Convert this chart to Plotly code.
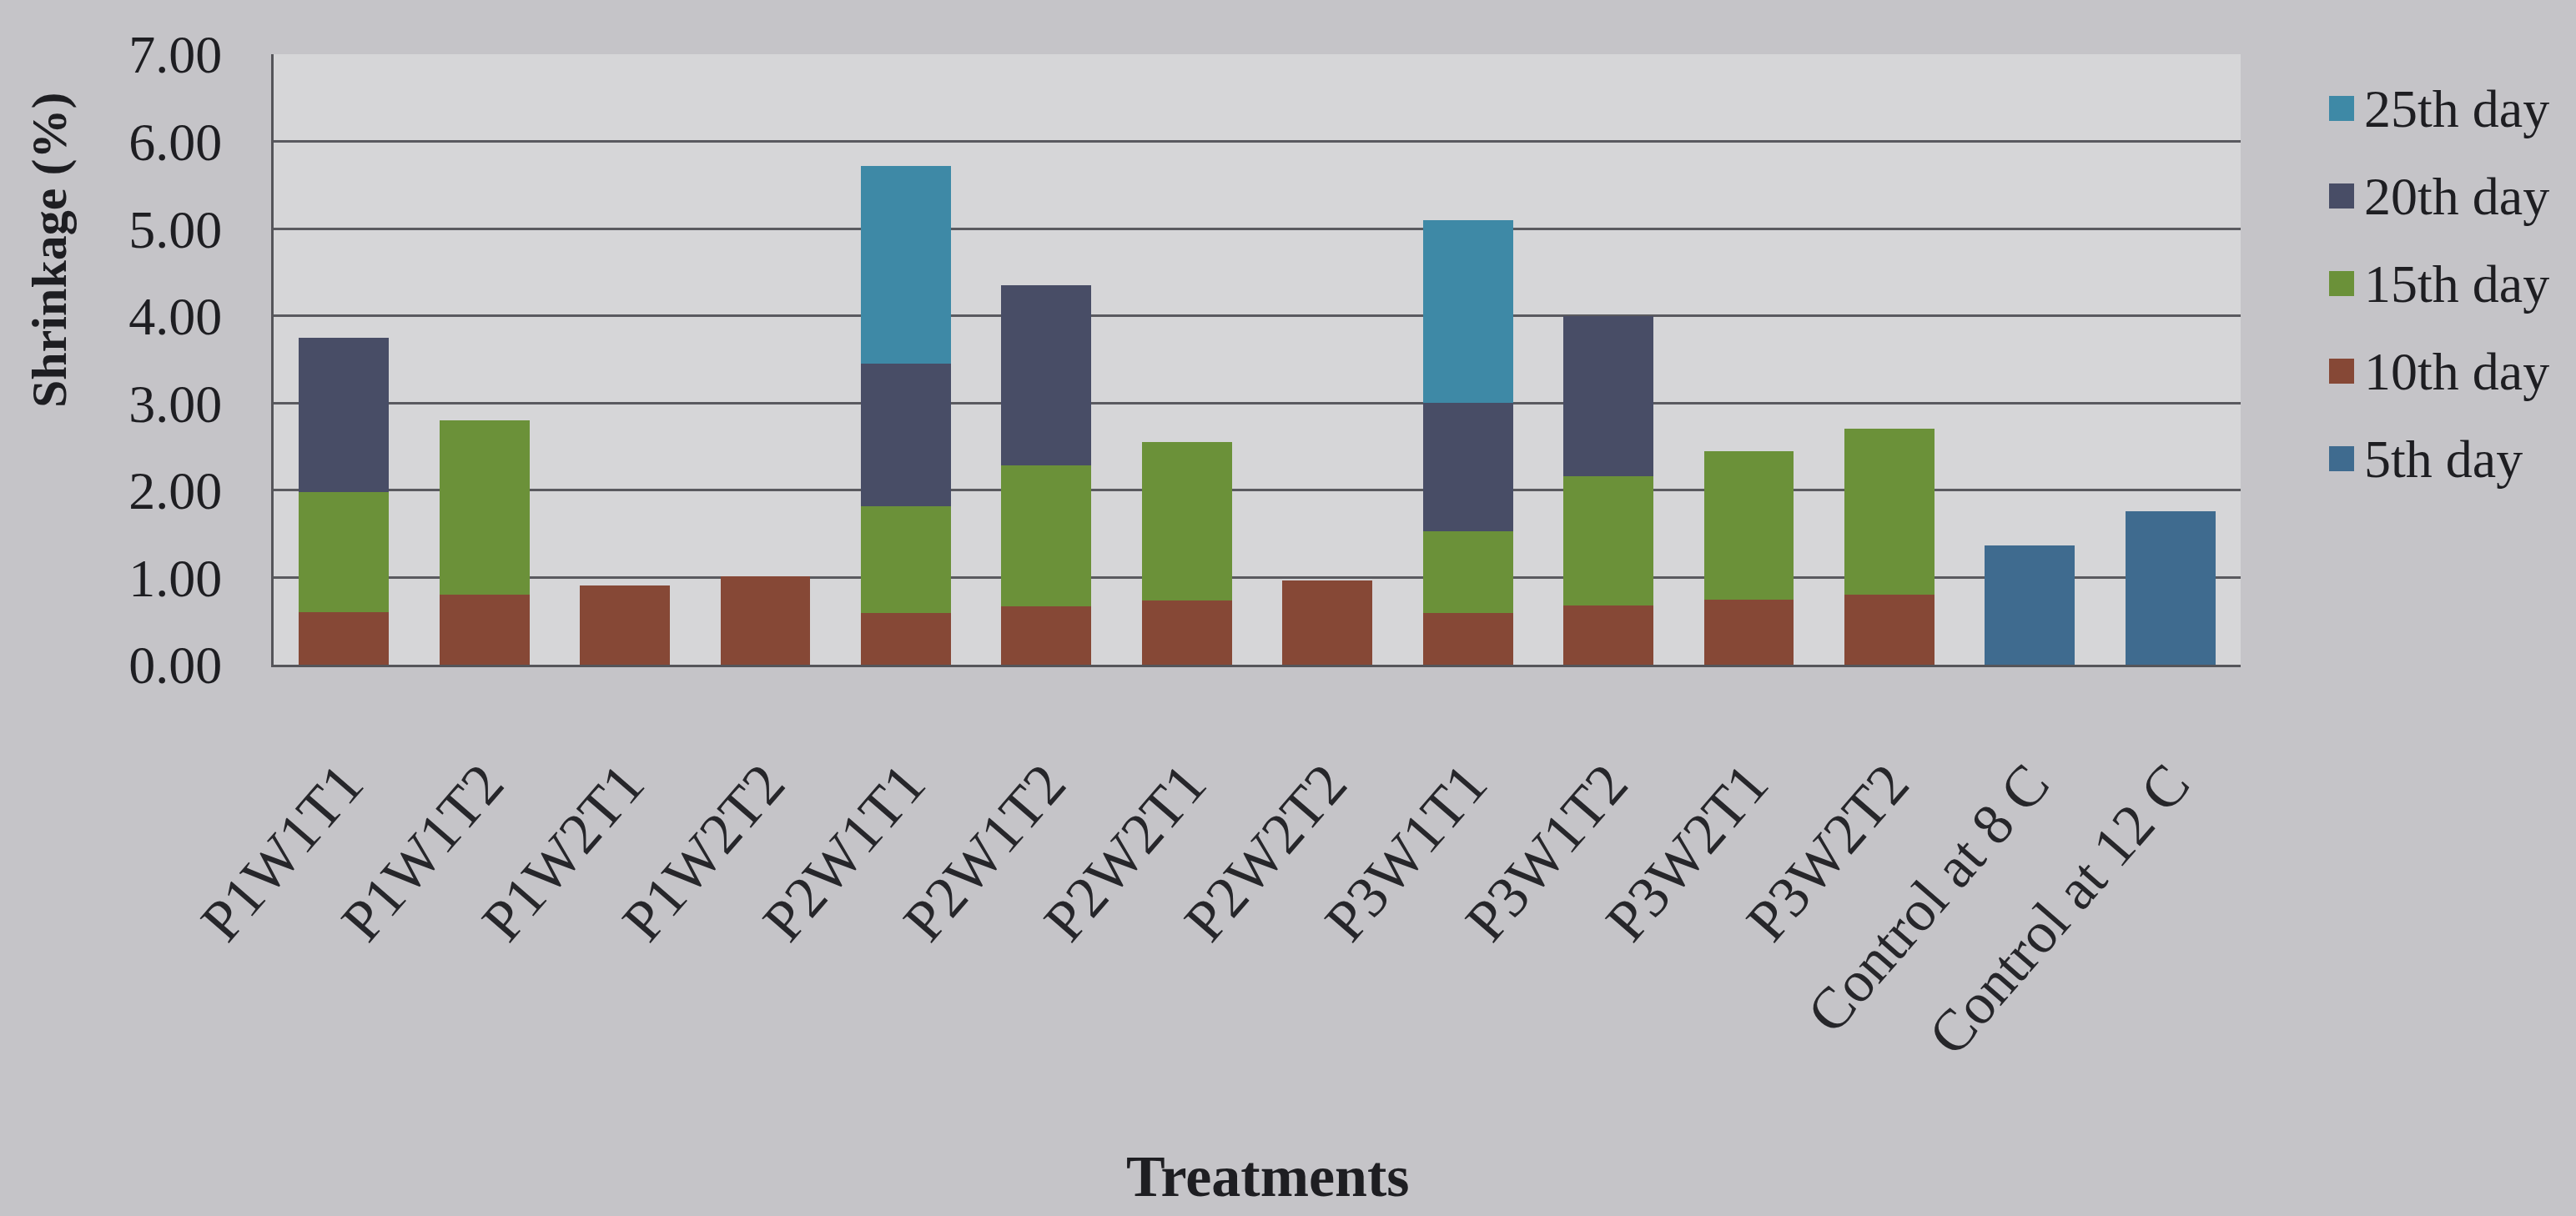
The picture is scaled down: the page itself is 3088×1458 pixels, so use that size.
import plotly.graph_objects as go

# Treatments on the x axis
treatments = ["P1W1T1", "P1W1T2", "P1W2T1", "P1W2T2", "P2W1T1", "P2W1T2",
              "P2W2T1", "P2W2T2", "P3W1T1", "P3W1T2", "P3W2T1", "P3W2T2",
              "Control at 8 C", "Control at 12 C"]

# Shrinkage (%) added in each period (stacked segments)
day5 = [None] * 12 + [1.37, 1.76]
day10 = [0.60, 0.80, 0.91, 1.01, 0.59, 0.67, 0.74, 0.97, 0.59, 0.68, 0.75, 0.80, None, None]
day15 = [1.38, 2.00, None, None, 1.23, 1.62, 1.81, None, 0.94, 1.48, 1.70, 1.91, None, None]
day20 = [1.77, None, None, None, 1.63, 2.06, None, None, 1.47, 1.84, None, None, None, None]
day25 = [None, None, None, None, 2.27, None, None, None, 2.10, None, None, None, None, None]

series_names = ["5th day", "10th day", "15th day", "20th day", "25th day"]
series_values = [day5, day10, day15, day20, day25]
series_colors = ["#3f6b8f", "#864836", "#6b9139", "#484d66", "#3e89a6"]

y_ticks = [0, 1, 2, 3, 4, 5, 6, 7]
y_tick_text = ["%.2f" % v for v in y_ticks]

SERIF = "Liberation Serif"
INK = "#1e1e22"

W, H = 3088, 1458
L, R, T, B = 328, 402, 65, 661
PW, PH = W - L - R, H - T - B


def xp(px):
    return (px - L) / PW


def yp(py):
    return (H - B - py) / PH


fig = go.Figure()
for name, vals, col in zip(series_names, series_values, series_colors):
    fig.add_trace(go.Bar(x=treatments, y=vals, name=name,
                         marker=dict(color=col, line=dict(width=0)),
                         showlegend=False))

# legend drawn as swatches + labels, top entry = last series
for i, (name, col) in enumerate(zip(reversed(series_names), reversed(series_colors))):
    cy = 130 + i * 105
    fig.add_shape(type="rect", xref="paper", yref="paper",
                  x0=xp(2792), x1=xp(2822), y0=yp(cy + 15), y1=yp(cy - 15),
                  fillcolor=col, line=dict(width=0))
    fig.add_annotation(x=xp(2832), y=yp(cy), xref="paper", yref="paper",
                       text=name, showarrow=False, xanchor="left", yanchor="middle",
                       font=dict(family=SERIF, size=64, color=INK))

# axis titles
fig.add_annotation(x=xp(59), y=yp(300), xref="paper", yref="paper",
                   text="<b>Shrinkage (%)</b>", textangle=-90, showarrow=False,
                   xanchor="center", yanchor="middle",
                   font=dict(family=SERIF, size=60, color=INK))
fig.add_annotation(x=xp(1520), y=yp(1410), xref="paper", yref="paper",
                   text="<b>Treatments</b>", showarrow=False,
                   xanchor="center", yanchor="middle", borderpad=0,
                   font=dict(family=SERIF, size=70, color=INK))

fig.update_layout(
    width=W, height=H,
    margin=dict(l=L, r=R, t=T, b=B, autoexpand=False),
    barmode="stack", bargap=0.36,
    paper_bgcolor="#c5c4c8", plot_bgcolor="#d6d6d8",
    showlegend=False,
)
fig.update_xaxes(
    showgrid=False, showline=True, linecolor="#55555a", linewidth=3,
    ticks="outside", ticklen=70, tickcolor="rgba(0,0,0,0)",
    tickangle=-49, tickfont=dict(family=SERIF, size=70, color="#26262a"),
)
fig.update_yaxes(
    range=[0, 7], tickvals=y_ticks, ticktext=y_tick_text,
    showgrid=True, gridcolor="#5a5a5f", gridwidth=3, zeroline=False,
    showline=True, linecolor="#55555a", linewidth=3,
    ticks="outside", ticklen=46, tickcolor="rgba(0,0,0,0)",
    tickfont=dict(family=SERIF, size=64, color=INK),
)

fig.write_html("out.html")
